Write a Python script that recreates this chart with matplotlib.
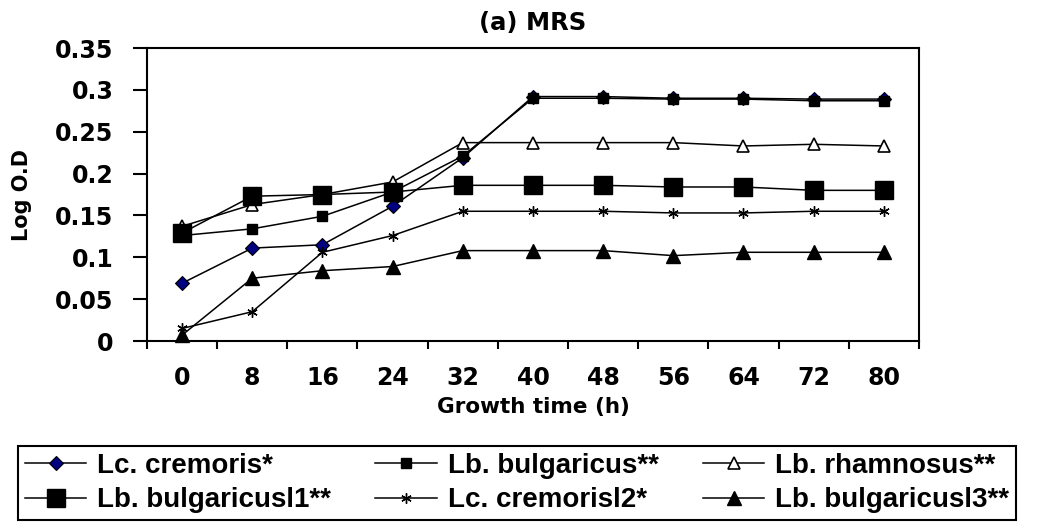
import matplotlib
matplotlib.use("Agg")
import matplotlib.pyplot as plt
from matplotlib.ticker import FuncFormatter, FixedLocator

# growth time (h) and log O.D readings in MRS broth
hours = [0, 8, 16, 24, 32, 40, 48, 56, 64, 72, 80]
lc_cremoris = [0.069, 0.111, 0.115, 0.161, 0.219, 0.292, 0.292, 0.290, 0.290, 0.289, 0.289]
lb_bulgaricus = [0.126, 0.134, 0.149, 0.178, 0.221, 0.290, 0.290, 0.289, 0.289, 0.287, 0.287]
lb_rhamnosus = [0.137, 0.163, 0.175, 0.190, 0.237, 0.237, 0.237, 0.237, 0.233, 0.235, 0.233]
lb_bulgaricus_l1 = [0.129, 0.173, 0.175, 0.178, 0.186, 0.186, 0.186, 0.184, 0.184, 0.180, 0.180]
lc_cremoris_l2 = [0.015, 0.035, 0.106, 0.126, 0.155, 0.155, 0.155, 0.153, 0.153, 0.155, 0.155]
lb_bulgaricus_l3 = [0.007, 0.075, 0.084, 0.089, 0.108, 0.108, 0.108, 0.102, 0.106, 0.106, 0.106]

labels = ["Lc. cremoris*", "Lb. bulgaricus**", "Lb. rhamnosus**",
          "Lb. bulgaricusl1**", "Lc. cremorisl2*", "Lb. bulgaricusl3**"]

fig = plt.figure(figsize=(10.4, 5.22), dpi=100)
ax = fig.add_axes([0.1413, 0.3467, 0.7423, 0.5613])

x = list(range(len(hours)))
styles = [
    (lc_cremoris, dict(marker="D", ms=7, mfc="#000080", mec="black", mew=0.8)),
    (lb_bulgaricus, dict(marker="s", ms=7, mfc="black", mec="black")),
    (lb_rhamnosus, dict(marker="^", ms=9, mfc="white", mec="black", mew=1.2)),
    (lb_bulgaricus_l1, dict(marker="s", ms=13, mfc="black", mec="black")),
    (lc_cremoris_l2, dict(marker=(6, 2, 0), ms=7.5, mfc="black", mec="black", mew=1.0)),
    (lb_bulgaricus_l3, dict(marker="^", ms=10, mfc="black", mec="black")),
]
handles = []
for (vals, st), lab in zip(styles, labels):
    h, = ax.plot(x, vals, color="black", lw=1.1, label=lab, clip_on=False, **st)
    handles.append(h)

ax.set_xlim(-0.5, len(hours) - 0.5)
ax.set_ylim(0, 0.35)
ax.set_yticks([0, 0.05, 0.1, 0.15, 0.2, 0.25, 0.3, 0.35])
ax.yaxis.set_major_formatter(FuncFormatter(lambda v, p: "%g" % round(v, 2)))

# category labels at centres, tick marks on the boundaries
ax.set_xticks(x)
ax.set_xticklabels([str(h) for h in hours])
ax.xaxis.set_minor_locator(FixedLocator([i - 0.5 for i in range(len(hours) + 1)]))
ax.tick_params(axis="x", which="major", length=0, pad=18)
ax.tick_params(axis="x", which="minor", length=6, width=1.5, direction="out")
ax.tick_params(axis="y", which="major", length=10, width=1.5, direction="out", pad=14)
for lab in ax.get_xticklabels() + ax.get_yticklabels():
    lab.set_fontfamily("DejaVu Sans")
    lab.set_fontweight("bold")
    lab.set_fontsize(17)

for sp in ax.spines.values():
    sp.set_linewidth(1.5)
    sp.set_color("black")

ax.set_title("(a) MRS", fontsize=17.5, fontweight="bold", family="DejaVu Sans", pad=13)
ax.set_xlabel("Growth time (h)", fontsize=15.5, fontweight="bold", family="DejaVu Sans", labelpad=5)
ax.set_ylabel("Log O.D", fontsize=15, fontweight="bold", family="DejaVu Sans", labelpad=17)

order = [0, 3, 1, 4, 2, 5]
leg = fig.legend([handles[i] for i in order], [labels[i] for i in order],
                 loc="upper left", bbox_to_anchor=(18 / 1040, 1 - 446 / 522),
                 ncol=3, frameon=True, fancybox=False, framealpha=1,
                 edgecolor="black", handlelength=2.2, handletextpad=0.4,
                 columnspacing=1.6, labelspacing=0.3, borderpad=0.25,
                 borderaxespad=0,
                 prop={"family": "Liberation Sans", "weight": "bold", "size": 20})
leg.get_frame().set_linewidth(1.5)

fig.savefig("out.png", dpi=100)
